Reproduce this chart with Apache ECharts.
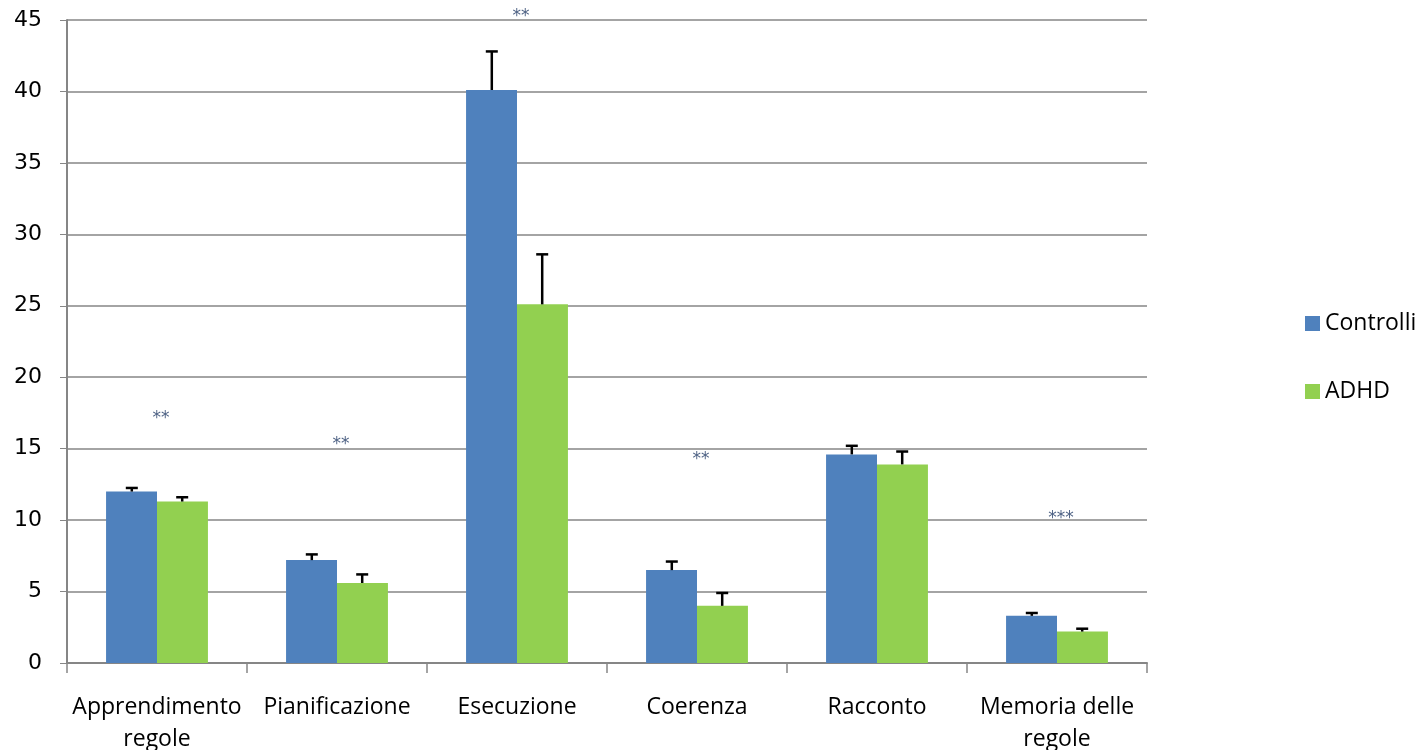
<!DOCTYPE html>
<html>
<head>
<meta charset="utf-8">
<script src="https://cdn.jsdelivr.net/npm/echarts@6/dist/echarts.min.js"></script>
<style>
  html, body { margin: 0; padding: 0; background: #fff; }
  #chart { width: 1425px; height: 750px; }
</style>
</head>
<body>
<div id="chart"></div>
<script>
// Task scores by group (means with upper standard error)
const categories = ['Apprendimento\nregole', 'Pianificazione', 'Esecuzione', 'Coerenza', 'Racconto', 'Memoria delle\nregole'];
const controlliMean = [12.0, 7.2, 40.1, 6.5, 14.6, 3.3];
const controlliUpper = [12.25, 7.6, 42.8, 7.1, 15.2, 3.5];
const adhdMean = [11.3, 5.6, 25.1, 4.0, 13.9, 2.2];
const adhdUpper = [11.6, 6.2, 28.6, 4.9, 14.8, 2.4];
// Significance markers and the height they are written at
const sigText = ['**', '**', '**', '**', '', '***'];
const sigLevel = [17.4, 15.6, 45.5, 14.5, null, 10.4];
const yTicks = [0, 5, 10, 15, 20, 25, 30, 35, 40, 45];

const BLUE = '#4F81BD';
const GREEN = '#92D050';

function errorBar(offsetSign, means, uppers) {
  return {
    type: 'custom',
    z: 5,
    silent: true,
    data: means.map((m, i) => [i, m, uppers[i]]),
    encode: { x: 0, y: [1, 2] },
    renderItem: function (params, api) {
      const band = api.size([1, 0])[0];
      const dx = offsetSign * band * 0.14;
      const base = api.coord([api.value(0), api.value(1)]);
      const top = api.coord([api.value(0), api.value(2)]);
      const x = base[0] + dx;
      return {
        type: 'group',
        children: [
          { type: 'line', shape: { x1: x, y1: base[1], x2: x, y2: top[1] },
            style: { stroke: '#000', lineWidth: 2.5 } },
          { type: 'line', shape: { x1: x - 6, y1: top[1], x2: x + 6, y2: top[1] },
            style: { stroke: '#000', lineWidth: 2.5 } }
        ]
      };
    }
  };
}

const chart = echarts.init(document.getElementById('chart'));
chart.setOption({
  animation: false,
  backgroundColor: '#fff',
  grid: { left: 67, right: 278, top: 20, bottom: 87, containLabel: false, outerBoundsMode: 'none' },
  legend: {
    orient: 'vertical',
    left: 1300,
    top: 307,
    itemWidth: 15,
    itemHeight: 15,
    itemGap: 45,
    icon: 'rect',
    textStyle: { fontFamily: 'Open Sans', fontSize: 23, lineHeight: 20, color: '#000' },
    data: ['Controlli', 'ADHD']
  },
  xAxis: {
    type: 'category',
    data: categories,
    axisLine: { lineStyle: { color: '#868686', width: 2 } },
    axisTick: { show: true, length: 10, lineStyle: { color: '#868686', width: 1.5 } },
    axisLabel: {
      interval: 0,
      margin: 28,
      fontFamily: 'Open Sans',
      fontSize: 23,
      lineHeight: 32,
      color: '#000'
    }
  },
  yAxis: {
    type: 'value',
    min: 0,
    max: 45,
    interval: 5,
    axisLine: { show: true, lineStyle: { color: '#868686', width: 2 } },
    axisTick: { show: true, length: 7, lineStyle: { color: '#868686' } },
    axisLabel: {
      margin: 25,
      fontFamily: 'DejaVu Sans',
      fontSize: 22,
      color: '#000',
      formatter: v => yTicks.includes(v) ? String(v) : ''
    },
    splitLine: { lineStyle: { color: '#868686', width: 1.5 } }
  },
  series: [
    {
      name: 'Controlli',
      type: 'bar',
      data: controlliMean,
      barWidth: '28.3%',
      barGap: '0%',
      itemStyle: { color: BLUE }
    },
    {
      name: 'ADHD',
      type: 'bar',
      data: adhdMean,
      barWidth: '28.3%',
      barGap: '0%',
      itemStyle: { color: GREEN }
    },
    errorBar(-1, controlliMean, controlliUpper),
    errorBar(1, adhdMean, adhdUpper),
    {
      type: 'scatter',
      clip: false,
      silent: true,
      symbolSize: 0,
      data: sigLevel.map((v, i) => v === null ? null : [i, v]).filter(d => d),
      label: {
        show: true,
        position: 'inside',
        offset: [4, 4],
        formatter: p => sigText[p.data[0]],
        fontFamily: 'DejaVu Sans',
        fontSize: 17,
        color: '#1F3864',
        letterSpacing: 4
      },
      z: 6
    }
  ]
});
</script>
</body>
</html>
